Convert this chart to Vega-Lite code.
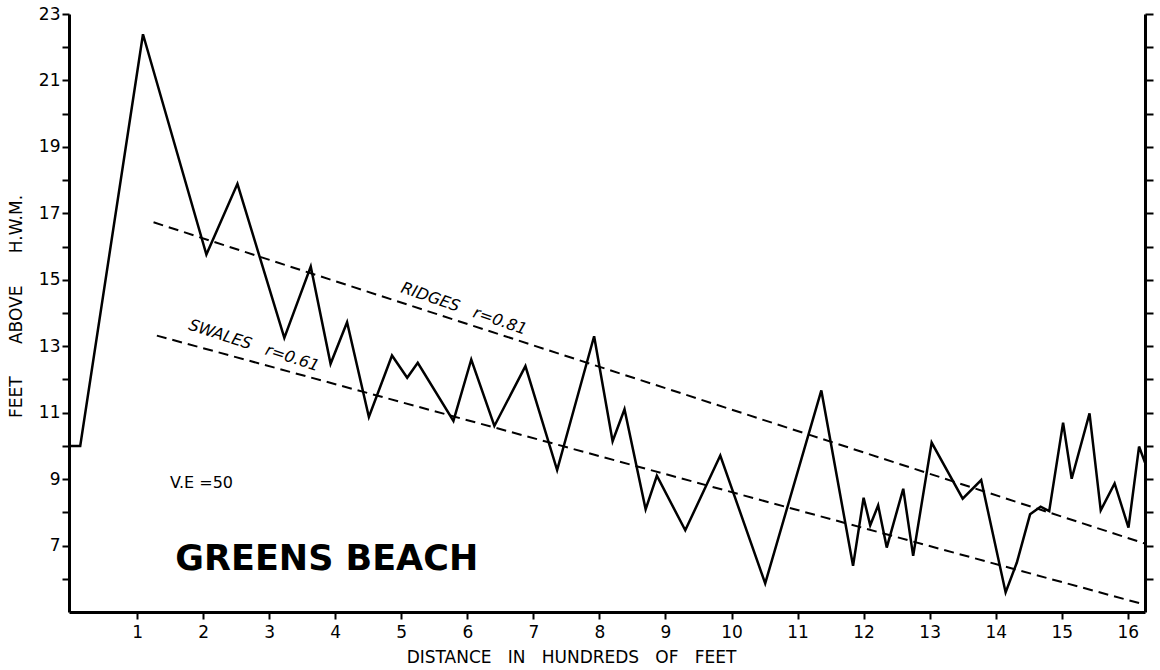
{
  "$schema": "https://vega.github.io/schema/vega-lite/v6.json",
  "width": 1076,
  "height": 598,
  "autosize": {"type": "none"},
  "padding": {"left": 69, "top": 14, "right": 15, "bottom": 58},
  "background": "white",
  "config": {
    "view": {"stroke": null},
    "font": "DejaVu Sans",
    "axis": {
      "grid": false,
      "domainColor": "black",
      "domainWidth": 3,
      "tickColor": "black",
      "tickWidth": 2,
      "labelColor": "black",
      "titleColor": "black",
      "labelFont": "DejaVu Sans",
      "titleFont": "DejaVu Sans",
      "titleFontWeight": "normal"
    }
  },
  "datasets": {
    "profile": [
      {"d": 0, "h": 10}, {"d": 0.14, "h": 10}, {"d": 1.09, "h": 22.39}, {"d": 2.05, "h": 15.76},
      {"d": 2.52, "h": 17.89}, {"d": 3.23, "h": 13.25}, {"d": 3.63, "h": 15.4}, {"d": 3.93, "h": 12.47},
      {"d": 4.18, "h": 13.72}, {"d": 4.51, "h": 10.87}, {"d": 4.86, "h": 12.72}, {"d": 5.09, "h": 12.05},
      {"d": 5.25, "h": 12.5}, {"d": 5.79, "h": 10.75}, {"d": 6.06, "h": 12.6}, {"d": 6.41, "h": 10.6},
      {"d": 6.88, "h": 12.4}, {"d": 7.36, "h": 9.27}, {"d": 7.92, "h": 13.3}, {"d": 8.2, "h": 10.14},
      {"d": 8.38, "h": 11.1}, {"d": 8.7, "h": 8.09}, {"d": 8.87, "h": 9.1}, {"d": 9.3, "h": 7.46},
      {"d": 9.83, "h": 9.71}, {"d": 10.51, "h": 5.86}, {"d": 11.36, "h": 11.67}, {"d": 11.84, "h": 6.39},
      {"d": 12.0, "h": 8.44}, {"d": 12.1, "h": 7.61}, {"d": 12.22, "h": 8.21}, {"d": 12.35, "h": 6.94},
      {"d": 12.6, "h": 8.71}, {"d": 12.75, "h": 6.69}, {"d": 13.03, "h": 10.1}, {"d": 13.5, "h": 8.41},
      {"d": 13.78, "h": 8.97}, {"d": 14.15, "h": 5.59}, {"d": 14.32, "h": 6.49}, {"d": 14.52, "h": 7.94},
      {"d": 14.68, "h": 8.17}, {"d": 14.81, "h": 8.04}, {"d": 15.02, "h": 10.7}, {"d": 15.15, "h": 9.01},
      {"d": 15.42, "h": 10.98}, {"d": 15.59, "h": 8.06}, {"d": 15.8, "h": 8.87}, {"d": 16.01, "h": 7.54},
      {"d": 16.17, "h": 9.98}, {"d": 16.26, "h": 9.5}
    ],
    "trends": [
      {"series": "Ridges", "d": 1.25, "h": 16.73},
      {"series": "Ridges", "d": 16.26, "h": 7.06},
      {"series": "Swales", "d": 1.3, "h": 13.32},
      {"series": "Swales", "d": 16.26, "h": 5.22}
    ],
    "trendLabels": [
      {"label": "RIDGES\u00a0\u00a0\u00a0r=0.81", "d": 5.95, "h": 14.13, "kind": "ridge"},
      {"label": "SWALES\u00a0\u00a0\u00a0r=0.61", "d": 2.77, "h": 13.02, "kind": "swale"}
    ],
    "notes": [
      {"label": "V.E =50", "d": 1.5, "h": 8.89, "kind": "ve"},
      {"label": "GREENS BEACH", "d": 1.58, "h": 6.59, "kind": "title"}
    ]
  },
  "encoding": {
    "x": {
      "field": "d", "type": "quantitative",
      "scale": {"domain": [-0.03, 16.26], "nice": false, "zero": false},
      "axis": {
        "values": [1,2,3,4,5,6,7,8,9,10,11,12,13,14,15,16],
        "tickSize": 7,
        "labelFontSize": 17,
        "labelPadding": 5,
        "title": "DISTANCE\u00a0\u00a0\u00a0IN\u00a0\u00a0\u00a0HUNDREDS\u00a0\u00a0\u00a0OF\u00a0\u00a0\u00a0FEET",
        "titleFontSize": 17,
        "titleX": 502,
        "titleY": 45,
        "titleAlign": "center",
        "titleBaseline": "middle"
      }
    }
  },
  "layer": [
    {
      "data": {"name": "profile"},
      "mark": {"type": "line", "color": "black", "strokeWidth": 2.5, "strokeJoin": "miter", "clip": true},
      "encoding": {
        "y": {
          "field": "h", "type": "quantitative",
          "scale": {"domain": [5, 23], "nice": false, "zero": false},
          "axis": {
            "orient": "left",
            "values": [6,7,8,9,10,11,12,13,14,15,16,17,18,19,20,21,22,23],
            "labelExpr": "datum.value % 2 == 1 ? datum.label : ''",
            "tickSize": 7,
            "labelFontSize": 17,
            "labelPadding": 2,
            "title": "FEET\u00a0\u00a0\u00a0\u00a0\u00a0\u00a0ABOVE\u00a0\u00a0\u00a0\u00a0\u00a0\u00a0H.W.M.",
            "titleFontSize": 17,
            "titleAngle": 270,
            "titleX": -53,
            "titleY": 292,
            "titleAlign": "center",
            "titleBaseline": "middle"
          }
        }
      }
    },
    {
      "data": {"name": "trends"},
      "mark": {"type": "line", "color": "black", "strokeWidth": 2, "strokeDash": [10, 6]},
      "encoding": {
        "y": {
          "field": "h", "type": "quantitative",
          "axis": {
            "orient": "right",
            "values": [6,7,8,9,10,11,12,13,14,15,16,17,18,19,20,21,22,23],
            "labels": false,
            "tickSize": 8,
            "title": null
          }
        },
        "detail": {"field": "series", "type": "nominal"}
      }
    },
    {
      "data": {"name": "trendLabels"},
      "transform": [{"filter": "datum.kind == 'ridge'"}],
      "mark": {"type": "text", "angle": 19, "fontSize": 16, "fontStyle": "italic", "color": "black", "align": "center", "baseline": "middle"},
      "encoding": {
        "y": {"field": "h", "type": "quantitative", "axis": null},
        "text": {"field": "label"}
      }
    },
    {
      "data": {"name": "trendLabels"},
      "transform": [{"filter": "datum.kind == 'swale'"}],
      "mark": {"type": "text", "angle": 18, "fontSize": 16, "fontStyle": "italic", "color": "black", "align": "center", "baseline": "middle"},
      "encoding": {
        "y": {"field": "h", "type": "quantitative", "axis": null},
        "text": {"field": "label"}
      }
    },
    {
      "data": {"name": "notes"},
      "transform": [{"filter": "datum.kind == 've'"}],
      "mark": {"type": "text", "fontSize": 16, "color": "black", "align": "left", "baseline": "middle"},
      "encoding": {
        "y": {"field": "h", "type": "quantitative", "axis": null},
        "text": {"field": "label"}
      }
    },
    {
      "data": {"name": "notes"},
      "transform": [{"filter": "datum.kind == 'title'"}],
      "mark": {"type": "text", "fontSize": 35, "fontWeight": "bold", "color": "black", "align": "left", "baseline": "middle"},
      "encoding": {
        "y": {"field": "h", "type": "quantitative", "axis": null},
        "text": {"field": "label"}
      }
    }
  ],
  "resolve": {"axis": {"y": "independent"}}
}
